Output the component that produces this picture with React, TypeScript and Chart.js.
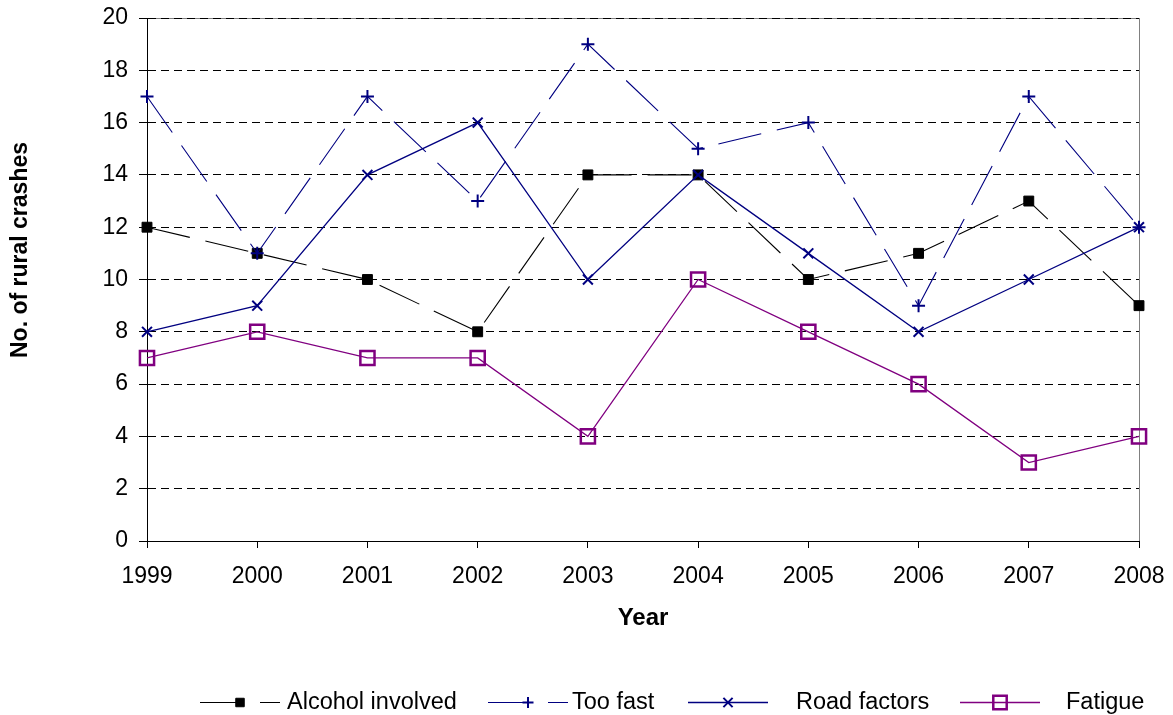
import React, { useEffect, useRef } from "react";
import { Chart, registerables } from "chart.js";
import { drawPoint } from "chart.js/helpers";

Chart.register(...registerables);

const years = ["1999", "2000", "2001", "2002", "2003", "2004", "2005", "2006", "2007", "2008"];
const alcoholInvolved = [12, 11, 10, 8, 14, 14, 10, 11, 13, 9];
const tooFast = [17, 11, 17, 13, 19, 15, 16, 9, 17, 12];
const roadFactors = [8, 9, 14, 16, 10, 14, 11, 8, 10, 12];
const fatigue = [7, 8, 7, 7, 4, 10, 8, 6, 3, 4];
const yTicks = [0, 2, 4, 6, 8, 10, 12, 14, 16, 18, 20];

const FONT = "'Liberation Sans', Arial, Helvetica, sans-serif";

// legend layout (pixel positions of each entry's symbol start and text start)
const legendSymbolX = [200, 488, 688, 960];
const legendTextX = [287, 572, 796, 1066];
const legendY = 702;
const legendSymbolW = 80;

const plotBorderPlugin = {
  id: "plotBorder",
  beforeDraw(chart: any) {
    const { ctx, chartArea } = chart;
    ctx.save();
    ctx.strokeStyle = "#808080";
    ctx.lineWidth = 1;
    ctx.strokeRect(
      Math.round(chartArea.left) + 0.5,
      Math.round(chartArea.top) + 0.5,
      Math.round(chartArea.right - chartArea.left),
      Math.round(chartArea.bottom - chartArea.top)
    );
    ctx.restore();
  },
};

const yTitlePlugin = {
  id: "yTitle",
  afterDraw(chart: any) {
    const { ctx } = chart;
    ctx.save();
    ctx.translate(21, 250);
    ctx.rotate(-Math.PI / 2);
    ctx.font = `bold 23px ${FONT}`;
    ctx.fillStyle = "#000";
    ctx.textAlign = "center";
    ctx.textBaseline = "middle";
    ctx.fillText("No. of rural crashes", 0, 0);
    ctx.restore();
  },
};

const legendPlugin = {
  id: "customLegend",
  afterDraw(chart: any) {
    const { ctx } = chart;
    chart.data.datasets.forEach((ds: any, i: number) => {
      const x0 = legendSymbolX[i];
      ctx.save();
      ctx.strokeStyle = ds.borderColor;
      ctx.lineWidth = ds.borderWidth;
      ctx.setLineDash(ds.borderDash || []);
      ctx.beginPath();
      ctx.moveTo(x0, legendY + 0.5);
      ctx.lineTo(x0 + legendSymbolW, legendY + 0.5);
      ctx.stroke();
      ctx.setLineDash([]);
      ctx.strokeStyle = ds.pointBorderColor;
      ctx.fillStyle = ds.pointBackgroundColor;
      ctx.lineWidth = ds.pointBorderWidth;
      drawPoint(
        ctx,
        {
          pointStyle: ds.pointStyle,
          radius: ds.legendRadius,
          borderWidth: ds.pointBorderWidth,
          rotation: 0,
        } as any,
        x0 + 40,
        legendY + 0.5
      );
      ctx.fillStyle = "#000";
      ctx.font = `23.5px ${FONT}`;
      ctx.textAlign = "left";
      ctx.textBaseline = "middle";
      ctx.fillText(ds.label, legendTextX[i], legendY + 1);
      ctx.restore();
    });
  },
};

export default function App() {
  const canvasRef = useRef<HTMLCanvasElement | null>(null);

  useEffect(() => {
    if (!canvasRef.current) return;
    Chart.defaults.font.family = FONT;
    Chart.defaults.color = "#000";
    const chart = new Chart(canvasRef.current, {
      type: "line",
      data: {
        labels: years,
        datasets: [
          {
            label: "Alcohol involved",
            data: alcoholInvolved,
            borderColor: "#000000",
            borderWidth: 1.1,
            borderDash: [44, 16],
            pointStyle: "rect",
            pointRadius: 7,
            pointBorderWidth: 1,
            pointBackgroundColor: "#000000",
            pointBorderColor: "#000000",
            legendRadius: 6,
            order: 4,
          } as any,
          {
            label: "Too fast",
            data: tooFast,
            borderColor: "#000080",
            borderWidth: 1.1,
            borderDash: [44, 16],
            pointStyle: "cross",
            pointRadius: 6.5,
            pointBorderWidth: 2,
            pointBackgroundColor: "#000080",
            pointBorderColor: "#000080",
            legendRadius: 5.5,
            order: 3,
          } as any,
          {
            label: "Road factors",
            data: roadFactors,
            borderColor: "#000080",
            borderWidth: 1.3,
            pointStyle: "crossRot",
            pointRadius: 7,
            pointBorderWidth: 2,
            pointBackgroundColor: "#000080",
            pointBorderColor: "#000080",
            legendRadius: 6.5,
            order: 2,
          } as any,
          {
            label: "Fatigue",
            data: fatigue,
            borderColor: "#800080",
            borderWidth: 1.3,
            pointStyle: "rect",
            pointRadius: 10,
            pointBorderWidth: 2.5,
            pointBackgroundColor: "rgba(0,0,0,0)",
            pointBorderColor: "#800080",
            legendRadius: 9.5,
            order: 1,
          } as any,
        ],
      },
      options: {
        responsive: false,
        animation: false,
        devicePixelRatio: 1,
        layout: { padding: { left: 0, right: 34, top: 18, bottom: 60 } },
        plugins: {
          legend: { display: false },
          tooltip: { enabled: false },
        },
        elements: { line: { tension: 0 } },
        scales: {
          x: {
            type: "category",
            offset: false,
            grid: {
              drawOnChartArea: false,
              drawTicks: true,
              tickLength: 7,
              tickColor: "#000",
              tickWidth: 1,
            },
            border: { display: true, color: "#000", width: 1 },
            ticks: { font: { size: 23 }, padding: 15, color: "#000", maxRotation: 0, autoSkip: false },
            title: {
              display: true,
              text: "Year",
              font: { size: 24, weight: "bold" },
              color: "#000",
              padding: { top: 0, bottom: 22 },
            },
            afterFit(scale: any) {
              scale.height = 114;
              scale.paddingLeft = 0;
              scale.paddingRight = 0;
            },
          },
          y: {
            min: 0,
            max: 20,
            afterBuildTicks(scale: any) {
              scale.ticks = yTicks.map((v) => ({ value: v }));
            },
            grid: {
              color: "#000",
              lineWidth: 1,
              drawTicks: true,
              tickLength: 8,
              tickColor: "#000",
              tickBorderDash: [],
            },
            border: { display: true, color: "#000", width: 1, dash: [8, 5] },
            ticks: { font: { size: 23 }, padding: 11, color: "#000" },
            afterFit(scale: any) {
              scale.width = 147;
              scale.paddingTop = 0;
              scale.paddingBottom = 0;
            },
          },
        },
      } as any,
      plugins: [plotBorderPlugin, yTitlePlugin, legendPlugin],
    });
    return () => chart.destroy();
  }, []);

  return (
    <div style={{ position: "absolute", left: 0, top: 0, width: 1173, height: 715, background: "#fff" }}>
      <canvas ref={canvasRef} width={1173} height={715} style={{ display: "block" }} />
    </div>
  );
}
